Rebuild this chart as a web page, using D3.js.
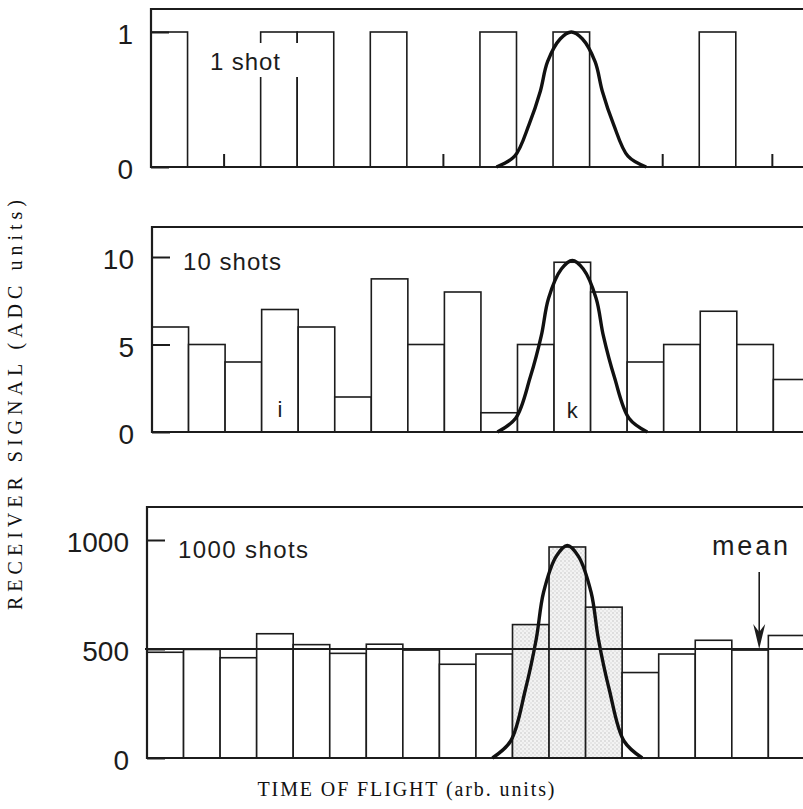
<!DOCTYPE html>
<html>
<head>
<meta charset="utf-8">
<script src="https://cdn.jsdelivr.net/npm/d3@7"></script>
<style>
  body { margin: 0; background: #fff; }
  svg { display: block; }
</style>
</head>
<body>
<div id="chart"></div>
<script>
// bins of the time-of-flight histogram
const bins = [0, 1, 2, 3, 4, 5, 6, 7, 8, 9, 10, 11, 12, 13, 14, 15, 16, 17];

// receiver signal per bin
const shots1 = [1, 0, 0, 1, 1, 0, 1, 0, 0, 1, 0, 1, 0, 0, 0, 1, 0, 0];
const shots10 = [6, 5, 4, 7, 6, 2, 8.75, 5, 8, 1.1, 5, 9.7, 8, 4, 5, 6.9, 5, 3];
const shots1000 = [485, 498, 460, 570, 520, 480, 522, 495, 430, 477, 612, 968, 692, 392, 477, 540, 495, 562];
const shaded1000 = [10, 11, 12];

// little marks at empty bin edges in the 1 shot trace
const emptyEdgeMarks = [2, 8, 14, 17];

// tick labels
const ticks1 = [0, 1];
const ticks10 = [0, 5, 10];
const ticks1000 = [0, 500, 1000];

// signal shape (fraction of peak vs offset in bins from the centre of bin k)
const shapeDx = [-2.05, -1.55, -1.15, -0.85, -0.65, -0.3, 0, 0.3, 0.65, 0.85, 1.15, 1.55, 2.05];
const shapeFrac = [0.0, 0.08, 0.32, 0.56, 0.78, 0.95, 1, 0.95, 0.78, 0.56, 0.32, 0.08, 0.0];
const shapeCentre = 11.5;
const shapePeaks = [1, 9.8, 975];

const meanValue = 500;

const width = 803;
const height = 809;
const binWidth = 36.55;
const ink = "#1c1c1c";

const svg = d3.select("#chart")
    .append("svg")
    .attr("width", width)
    .attr("height", height);

// stipple for the signal bins
const pat = svg.append("defs").append("pattern")
    .attr("id", "stipple")
    .attr("patternUnits", "userSpaceOnUse")
    .attr("width", 4)
    .attr("height", 4);
pat.append("rect").attr("width", 4).attr("height", 4).attr("fill", "#f3f3f3");
pat.append("circle").attr("cx", 1).attr("cy", 1).attr("r", 0.8).attr("fill", "#c4c4c4");
pat.append("circle").attr("cx", 3).attr("cy", 3).attr("r", 0.8).attr("fill", "#d6d6d6");

const panels = [
    { values: shots1, ticks: ticks1, max: 1, x0: 151, top: 9, base: 167, yMax: 32, peak: shapePeaks[0] },
    { values: shots10, ticks: ticks10, max: 10, x0: 152, top: 227, base: 432, yMax: 257, peak: shapePeaks[1] },
    { values: shots1000, ticks: ticks1000, max: 1000, x0: 147, top: 507, base: 758, yMax: 540, peak: shapePeaks[2] }
];

panels.forEach((p, pi) => {
    const x = d3.scaleLinear().domain([0, bins.length]).range([p.x0, p.x0 + bins.length * binWidth]);
    const y = d3.scaleLinear().domain([0, p.max]).range([p.base, p.yMax]);
    const g = svg.append("g");

    // bars
    g.selectAll(".bar")
        .data(bins.filter(i => p.values[i] > 0))
        .enter()
        .append("rect")
        .attr("class", "bar")
        .attr("x", i => x(i))
        .attr("y", i => y(p.values[i]))
        .attr("width", binWidth)
        .attr("height", i => p.base - y(p.values[i]))
        .attr("fill", i => (pi === 2 && shaded1000.includes(i)) ? "url(#stipple)" : "#fff")
        .attr("stroke", ink)
        .attr("stroke-width", 1.6);

    // y axis with inward ticks
    const axis = g.append("g")
        .attr("transform", `translate(${p.x0},0)`)
        .call(d3.axisLeft(y).tickValues(p.ticks).tickSizeInner(-18).tickSizeOuter(0).tickPadding(18).tickFormat(d3.format("d")));
    axis.select(".domain").remove();
    axis.selectAll("line").attr("stroke", ink).attr("stroke-width", 2);
    axis.selectAll("text")
        .attr("fill", ink)
        .attr("dy", "0.42em")
        .style("font-family", "'Liberation Sans', Arial, sans-serif")
        .style("font-size", "28px");

    // frame: left, top, baseline
    g.append("path")
        .attr("d", `M${width},${p.top}H${p.x0}V${p.base}H${width}`)
        .attr("fill", "none")
        .attr("stroke", ink)
        .attr("stroke-width", 2.2);

    // signal shape
    const line = d3.line()
        .x((d, i) => x(shapeCentre + shapeDx[i]))
        .y(d => y(p.peak * d))
        .curve(d3.curveCatmullRom.alpha(0.5));
    g.append("path")
        .attr("d", line(shapeFrac))
        .attr("fill", "none")
        .attr("stroke", "#111")
        .attr("stroke-width", 3.4);

    p.x = x;
    p.y = y;
    p.g = g;
});

const labelFont = "'Liberation Sans', Arial, sans-serif";

// 1 shot panel
const p1 = panels[0];
p1.g.selectAll(".mark")
    .data(emptyEdgeMarks)
    .enter()
    .append("line")
    .attr("x1", i => p1.x(i))
    .attr("x2", i => p1.x(i))
    .attr("y1", p1.base)
    .attr("y2", p1.base - 13)
    .attr("stroke", ink)
    .attr("stroke-width", 2);
p1.g.append("rect")
    .attr("x", 203).attr("y", 43)
    .attr("width", 97).attr("height", 34)
    .attr("fill", "#fff");
p1.g.append("text")
    .attr("x", 210).attr("y", 70)
    .attr("textLength", 70)
    .style("font-family", labelFont).style("font-size", "24px")
    .attr("fill", ink)
    .text("1 shot");

// 10 shots panel
const p2 = panels[1];
p2.g.append("text")
    .attr("x", 183).attr("y", 270)
    .attr("textLength", 98)
    .style("font-family", labelFont).style("font-size", "24px")
    .attr("fill", ink)
    .text("10 shots");
p2.g.append("text")
    .attr("x", p2.x(3.5)).attr("y", 417)
    .attr("text-anchor", "middle")
    .style("font-family", labelFont).style("font-size", "22px")
    .attr("fill", ink)
    .text("i");
p2.g.append("text")
    .attr("x", p2.x(11.5)).attr("y", 418)
    .attr("text-anchor", "middle")
    .style("font-family", labelFont).style("font-size", "22px")
    .attr("fill", ink)
    .text("k");

// 1000 shots panel
const p3 = panels[2];
p3.g.append("line")
    .attr("x1", 145).attr("x2", width)
    .attr("y1", p3.y(meanValue)).attr("y2", p3.y(meanValue))
    .attr("stroke", ink)
    .attr("stroke-width", 1.8);
p3.g.append("text")
    .attr("x", 178).attr("y", 558)
    .attr("textLength", 130)
    .style("font-family", labelFont).style("font-size", "24px")
    .attr("fill", ink)
    .text("1000 shots");
const ax = p3.x(16.75);
const tipY = p3.y(meanValue);
p3.g.append("line")
    .attr("x1", ax).attr("x2", ax)
    .attr("y1", 572).attr("y2", tipY - 10)
    .attr("stroke", ink)
    .attr("stroke-width", 1.6);
p3.g.append("path")
    .attr("d", `M${ax - 6},${tipY - 25}L${ax},${tipY}L${ax + 6},${tipY - 25}L${ax},${tipY - 17}Z`)
    .attr("fill", ink);
p3.g.append("text")
    .attr("x", 750).attr("y", 555)
    .attr("text-anchor", "middle")
    .attr("textLength", 76)
    .style("font-family", labelFont).style("font-size", "27px")
    .attr("fill", ink)
    .text("mean");

// axis titles
svg.append("text")
    .attr("transform", "translate(22,405) rotate(-90)")
    .attr("text-anchor", "middle")
    .attr("textLength", 410)
    .style("font-family", "'Liberation Serif', 'Times New Roman', serif")
    .style("font-size", "20px")
    .attr("fill", "#111")
    .text("RECEIVER SIGNAL (ADC units)");

svg.append("text")
    .attr("x", 406).attr("y", 796)
    .attr("text-anchor", "middle")
    .attr("textLength", 297)
    .style("font-family", "'Liberation Serif', 'Times New Roman', serif")
    .style("font-size", "20px")
    .attr("fill", "#111")
    .text("TIME OF FLIGHT (arb. units)");
</script>
</body>
</html>
